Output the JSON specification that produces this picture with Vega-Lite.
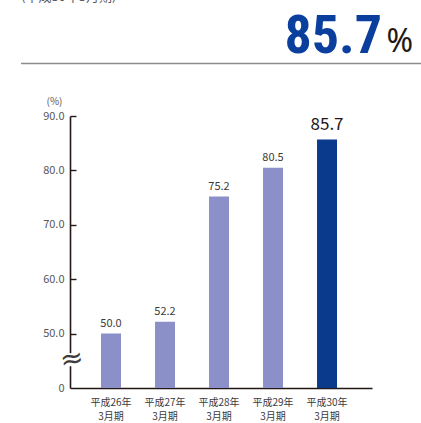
{
  "$schema": "https://vega.github.io/schema/vega-lite/v6.json",
  "width": 302,
  "height": 272,
  "autosize": {"type": "none"},
  "padding": {"left": 70, "top": 116, "right": 49, "bottom": 35},
  "background": "white",
  "config": {
    "view": {"stroke": null},
    "font": "Noto Sans CJK JP"
  },
  "datasets": {
    "ratio": [
      {"period": "平成26年3月期", "value": 50.0},
      {"period": "平成27年3月期", "value": 52.2},
      {"period": "平成28年3月期", "value": 75.2},
      {"period": "平成29年3月期", "value": 80.5},
      {"period": "平成30年3月期", "value": 85.7}
    ],
    "header": [
      {"caption": "(平成30年3月期)", "headline": "85.7", "unit": "%"}
    ]
  },
  "resolve": {"scale": {"x": "independent"}, "axis": {"x": "independent"}},
  "layer": [
    {
      "data": {"name": "ratio"},
      "layer": [
        {
          "mark": {"type": "bar", "clip": true},
          "encoding": {
            "x": {
              "field": "period", "type": "nominal", "sort": null,
              "scale": {"paddingInner": 0.63, "paddingOuter": 0.611, "align": 0.47},
              "axis": {
                "title": null, "ticks": false, "labelAngle": 0,
                "domainColor": "#231815", "domainWidth": 1.6,
                "labelFontSize": 10, "labelColor": "#3e3a39", "labelLineHeight": 14,
                "labelPadding": 9, "labelBaseline": "top",
                "labelExpr": "[slice(datum.label, 0, 5), slice(datum.label, 5)]"
              }
            },
            "y": {
              "field": "value", "type": "quantitative",
              "scale": {"domain": [40, 90], "zero": false, "nice": false},
              "axis": {
                "values": [40, 50, 60, 70, 80, 90],
                "labelExpr": "datum.value == 40 ? '0' : format(datum.value, '.1f')",
                "grid": false,
                "domainColor": "#231815", "domainWidth": 1.6,
                "tickColor": "#231815", "tickWidth": 1.4, "tickSize": -6,
                "tickOpacity": {"condition": {"test": "datum.value == 40", "value": 0}, "value": 1},
                "labelPadding": 12, "labelFontSize": 11, "labelColor": "#595757",
                "title": "(%)", "titleAngle": 0, "titleFontSize": 10, "titleFontWeight": "normal",
                "titleColor": "#595757", "titleAlign": "center", "titleBaseline": "middle",
                "titleX": -16, "titleY": -15
              }
            },
            "color": {
              "condition": {"test": "datum.period == '平成30年3月期'", "value": "#0a3a8c"},
              "value": "#8b90c8"
            }
          }
        },
        {
          "mark": {"type": "text", "baseline": "bottom", "dy": -5},
          "encoding": {
            "x": {"field": "period", "type": "nominal", "sort": null,
                  "scale": {"paddingInner": 0.63, "paddingOuter": 0.611, "align": 0.47}},
            "y": {"field": "value", "type": "quantitative",
                  "scale": {"domain": [40, 90], "zero": false, "nice": false}},
            "text": {"field": "value", "type": "quantitative", "format": ".1f"},
            "size": {
              "condition": {"test": "datum.period == '平成30年3月期'", "value": 17},
              "value": 11
            },
            "color": {
              "condition": {"test": "datum.period == '平成30年3月期'", "value": "#231815"},
              "value": "#3e3a39"
            }
          }
        }
      ]
    },
    {
      "data": {"name": "header"},
      "layer": [
        {
          "mark": {"type": "rule", "color": "#8c8c8c", "strokeWidth": 1.3},
          "encoding": {
            "x": {"datum": 0, "type": "quantitative", "scale": {"domain": [0, 1], "range": [-49, 351]}, "axis": null},
            "x2": {"datum": 1},
            "y": {"datum": 99.65, "type": "quantitative", "scale": {"domain": [40, 90], "zero": false, "nice": false}}
          }
        },
        {
          "mark": {"type": "text", "align": "left", "baseline": "alphabetic", "fontSize": 13, "color": "#595757"},
          "encoding": {
            "x": {"datum": 0, "type": "quantitative", "scale": {"domain": [0, 1], "range": [-49, 351]}, "axis": null},
            "y": {"datum": 111.2, "type": "quantitative", "scale": {"domain": [40, 90], "zero": false, "nice": false}},
            "text": {"field": "caption"}
          }
        },
        {
          "mark": {"type": "text", "align": "right", "baseline": "alphabetic", "fontSize": 54, "fontWeight": "bold", "font": "Roboto Condensed, DejaVu Sans Condensed, Liberation Sans Narrow, Roboto, sans-serif", "color": "#0b3f9e"},
          "encoding": {
            "x": {"datum": 0.9025, "type": "quantitative", "scale": {"domain": [0, 1], "range": [-49, 351]}, "axis": null},
            "y": {"datum": 101.58, "type": "quantitative", "scale": {"domain": [40, 90], "zero": false, "nice": false}},
            "text": {"field": "headline"}
          }
        },
        {
          "mark": {"type": "text", "align": "right", "baseline": "alphabetic", "fontSize": 32, "font": "Noto Sans", "color": "#231815"},
          "encoding": {
            "x": {"datum": 0.98, "type": "quantitative", "scale": {"domain": [0, 1], "range": [-49, 351]}, "axis": null},
            "y": {"datum": 101.76, "type": "quantitative", "scale": {"domain": [40, 90], "zero": false, "nice": false}},
            "text": {"field": "unit"}
          }
        },
        {
          "mark": {"type": "rect", "color": "white"},
          "encoding": {
            "x": {"datum": 0.11, "type": "quantitative", "scale": {"domain": [0, 1], "range": [-49, 351]}, "axis": null},
            "x2": {"datum": 0.135},
            "y": {"datum": 44.0, "type": "quantitative", "scale": {"domain": [40, 90], "zero": false, "nice": false}},
            "y2": {"datum": 46.4}
          }
        },
        {
          "mark": {"type": "text", "align": "center", "baseline": "middle", "fontSize": 28, "font": "DejaVu Sans", "color": "#3e3a39", "angle": -10},
          "encoding": {
            "x": {"datum": 0.1275, "type": "quantitative", "scale": {"domain": [0, 1], "range": [-49, 351]}, "axis": null},
            "y": {"datum": 45.2, "type": "quantitative", "scale": {"domain": [40, 90], "zero": false, "nice": false}},
            "text": {"value": "≈"}
          }
        }
      ]
    }
  ]
}
